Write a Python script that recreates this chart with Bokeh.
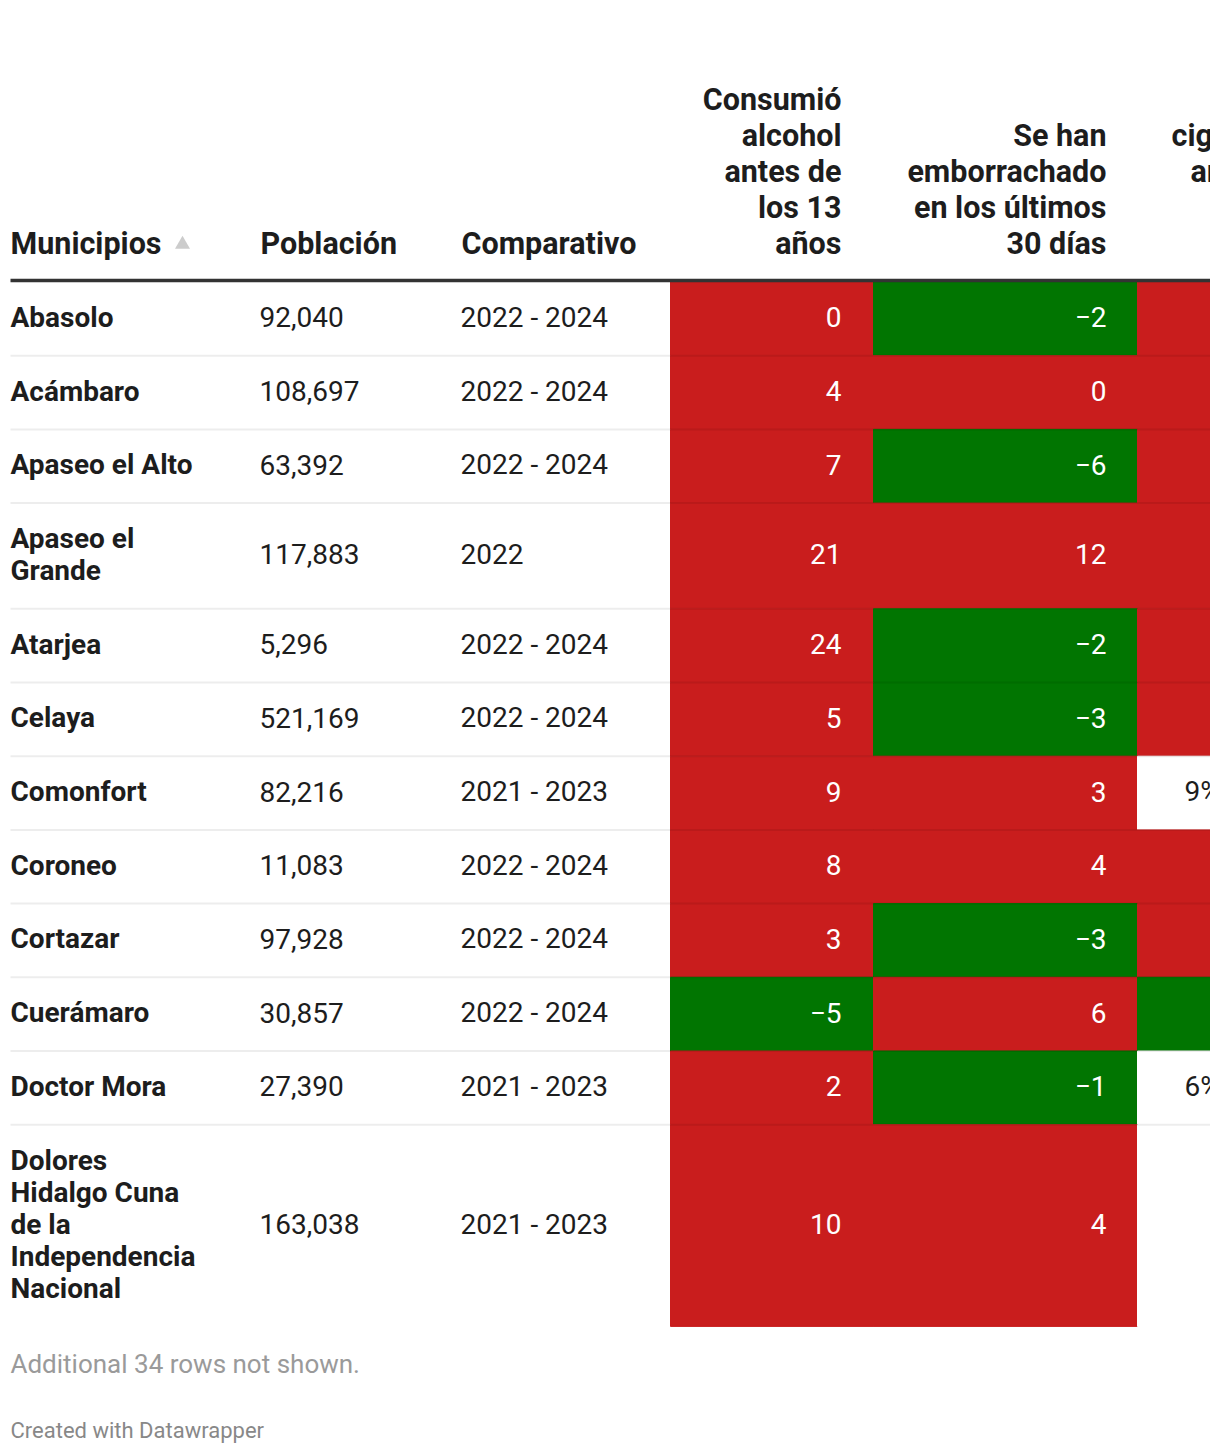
from bokeh.plotting import figure
from bokeh.models import Range1d
from bokeh.core.properties import value
from bokeh.embed import file_html
from bokeh.resources import INLINE

# ---------------- data ----------------
municipios = ["Abasolo", "Acámbaro", "Apaseo el Alto", "Apaseo el\nGrande", "Atarjea",
              "Celaya", "Comonfort", "Coroneo", "Cortazar", "Cuerámaro", "Doctor Mora",
              "Dolores\nHidalgo Cuna\nde la\nIndependencia\nNacional"]
poblacion = [92040, 108697, 63392, 117883, 5296, 521169, 82216, 11083, 97928, 30857, 27390, 163038]
comparativo = ["2022 - 2024", "2022 - 2024", "2022 - 2024", "2022", "2022 - 2024", "2022 - 2024",
               "2021 - 2023", "2022 - 2024", "2022 - 2024", "2022 - 2024", "2021 - 2023", "2021 - 2023"]
alcohol_13 = [0, 4, 7, 21, 24, 5, 9, 8, 3, -5, 2, 10]
borrachera_30 = [-2, 0, -6, 12, -2, -3, 3, 4, -3, 6, -1, 4]
# third indicator column (cut off at the right edge of the picture)
cigarro_estado = ["up", "up", "up", "up", "up", "up", "na", "up", "up", "down", "na", "na"]
cigarro_texto = ["", "", "", "", "", "", "9%", "", "", "", "6%", ""]

headers = ["Municipios", "Población", "Comparativo",
           "Consumió\nalcohol\nantes de\nlos 13\naños",
           "Se han\nemborrachado\nen los últimos\n30 días",
           "cigarros\narios"]
footer_note = "Additional 34 rows not shown."
credit = "Created with Datawrapper"

# ---------------- style / layout ----------------
FONT = value("Roboto")
RED = "#c91d1d"
GREEN = "#017501"
TXT = "#1d1d1d"
W, H = 1210, 1446
X0, X1 = 0, W
Y0, Y1 = 0, H

p = figure(width=W, height=H, x_range=Range1d(X0, X1), y_range=Range1d(Y1, Y0),
           x_axis_type=None, y_axis_type=None, toolbar_location=None,
           output_backend="svg", min_border=0)
p.grid.visible = False
p.outline_line_color = None
p.background_fill_color = "white"

TL, TR = 10, 1210
col_left = [10, 260, 461]
cell_edges = [670, 873, 1137, 1400]
line_h_body = 32
line_h_head = 36
header_bottom = 243
rule_y = 280

tops, bottoms, centers = [], [], []
y = rule_y + 1.5
for name in municipios:
    n = name.count("\n") + 1
    h = 41.7 + line_h_body * n
    tops.append(y)
    bottoms.append(y + h)
    centers.append(y + h / 2 - 1.5)
    y += h

def fmt(v):
    return ("\u2212" + str(-v)) if v < 0 else str(v)

def col_of(v):
    return RED if v >= 0 else GREEN

state_col = {"up": RED, "down": GREEN, "na": "white"}

ql, qr, qt, qb, qc = [], [], [], [], []
for i in range(len(municipios)):
    for j, c in enumerate([col_of(alcohol_13[i]), col_of(borrachera_30[i]), state_col[cigarro_estado[i]]]):
        ql.append(cell_edges[j]); qr.append(cell_edges[j + 1])
        qt.append(tops[i]); qb.append(bottoms[i]); qc.append(c)
p.quad(left=ql, right=qr, top=qt, bottom=qb, fill_color=qc, line_color=qc, line_width=1)

for i in range(len(municipios) - 1):
    p.line([TL, TR], [bottoms[i], bottoms[i]], line_color="black", line_alpha=0.07, line_width=2)

p.line([TL, TR], [rule_y, rule_y], line_color="#333333", line_width=3.5)

def mtext(xs, ys, texts, lh, anchor="center", **kw):
    X, Y, T = [], [], []
    for x, yc, t in zip(xs, ys, texts):
        lines = t.split("\n")
        n = len(lines)
        for k, ln in enumerate(lines):
            if anchor == "center":
                yy = yc + (k - (n - 1) / 2) * lh
            else:
                yy = yc - (n - 1 - k) * lh
            X.append(x); Y.append(yy); T.append(ln)
    p.text(x=X, y=Y, text=T, text_font=FONT, text_baseline="middle", **kw)

HF = "30.5px"
BF = "28px"
mtext(col_left, [header_bottom] * 3, headers[:3], line_h_head, anchor="bottom",
      text_font_size=HF, text_font_style="bold", text_color=TXT, text_align="left")
mtext([841, 1106], [header_bottom] * 2, headers[3:5], line_h_head, anchor="bottom",
      text_font_size=HF, text_font_style="bold", text_color=TXT, text_align="right")
mtext([1171, 1190], [135, 171], headers[5].split("\n"), line_h_head, anchor="center",
      text_font_size=HF, text_font_style="bold", text_color=TXT, text_align="left")
p.scatter(x=[182], y=[244], marker="triangle", size=15, fill_color="#cccccc", line_color=None)

mtext([col_left[0]] * len(municipios), centers, municipios, line_h_body,
      text_font_size=BF, text_font_style="bold", text_color=TXT, text_align="left")
p.text(x=[col_left[1] - 1] * len(poblacion), y=centers, text=[f"{v:,}" for v in poblacion],
       text_font=FONT, text_font_size=BF, text_color=TXT, text_baseline="middle", text_align="left")
p.text(x=[col_left[2] - 1] * len(comparativo), y=centers, text=comparativo,
       text_font=FONT, text_font_size=BF, text_color=TXT, text_baseline="middle", text_align="left")
p.text(x=[841] * len(alcohol_13), y=centers, text=[fmt(v) for v in alcohol_13],
       text_font=FONT, text_font_size=BF, text_color="white", text_baseline="middle", text_align="right")
p.text(x=[1106] * len(borrachera_30), y=centers, text=[fmt(v) for v in borrachera_30],
       text_font=FONT, text_font_size=BF, text_color="white", text_baseline="middle", text_align="right")
p.text(x=[1184] * len(cigarro_texto), y=centers, text=cigarro_texto,
       text_font=FONT, text_font_size=BF, text_color=TXT, text_baseline="middle", text_align="left")

p.text(x=[10], y=[1363], text=[footer_note], text_font=FONT, text_font_size="26px",
       text_color="#9a9a9a", text_baseline="middle", text_align="left")
p.text(x=[10], y=[1430], text=[credit], text_font=FONT, text_font_size="22px",
       text_color="#888888", text_baseline="middle", text_align="left")

open("out.html", "w").write(file_html(p, INLINE))
